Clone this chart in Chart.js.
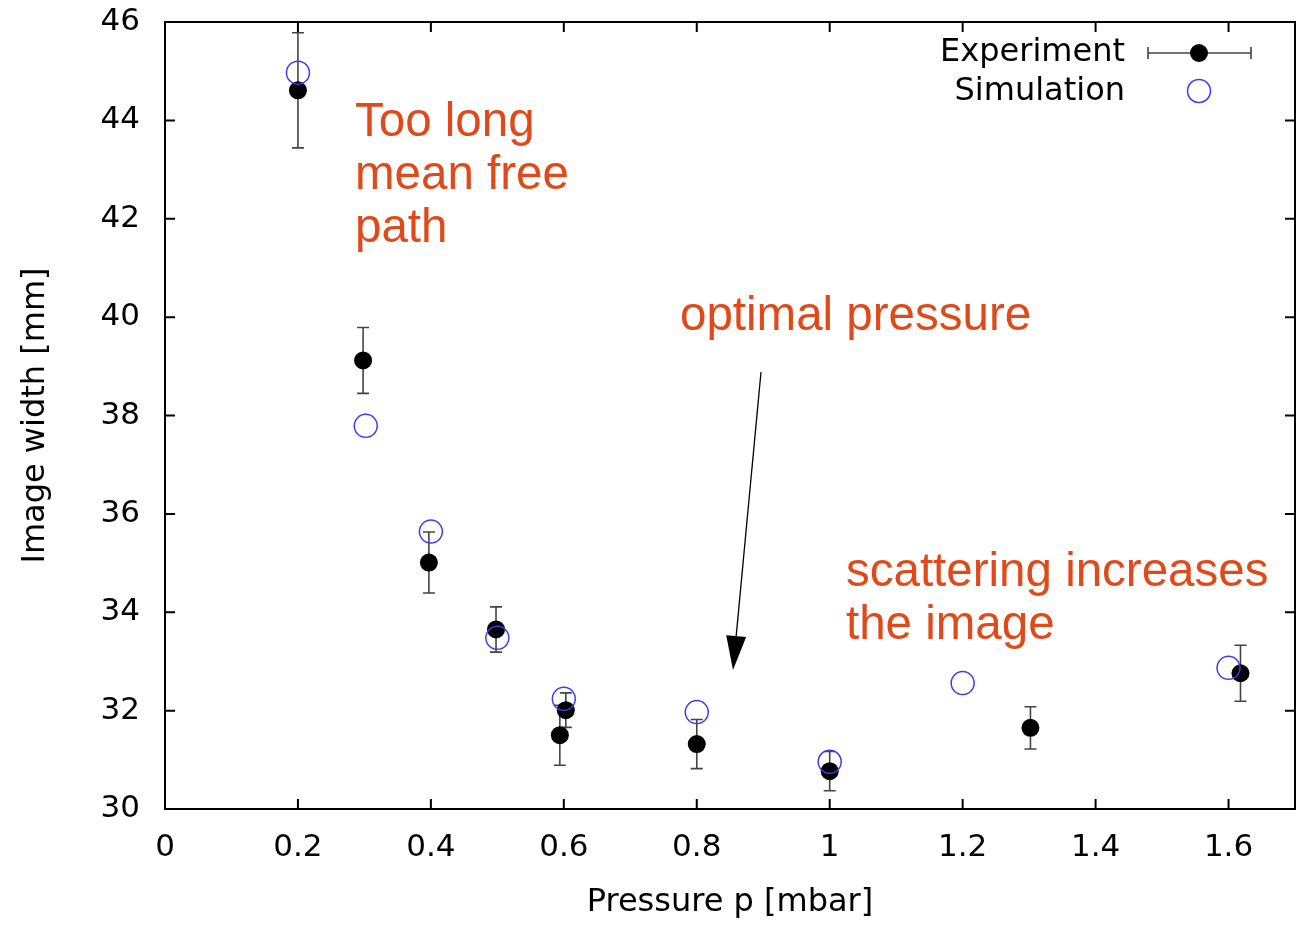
<!DOCTYPE html>
<html>
<head>
<meta charset="utf-8">
<script src="https://cdn.jsdelivr.net/npm/chart.js@4.4.1/dist/chart.umd.min.js"></script>
<style>
  body { margin: 0; background: #fff; }
  canvas { display: block; }
</style>
</head>
<body>
<canvas id="grafico" width="1296" height="925"></canvas>
<script>
// datos
const xTicks = [0, 0.2, 0.4, 0.6, 0.8, 1, 1.2, 1.4, 1.6];
const yTicks = [30, 32, 34, 36, 38, 40, 42, 44, 46];

const expX = [0.2, 0.298, 0.397, 0.498, 0.594, 0.603, 0.8, 1.0, 1.302, 1.618];
const expY = [44.61, 39.12, 35.01, 33.65, 31.50, 32.01, 31.32, 30.77, 31.65, 32.76];
const expErr = [1.17, 0.67, 0.62, 0.46, 0.61, 0.35, 0.5, 0.4, 0.43, 0.57];

const simX = [0.2, 0.302, 0.4, 0.5, 0.6, 0.8, 1.0, 1.2, 1.6];
const simY = [44.97, 37.79, 35.64, 33.48, 32.24, 31.97, 30.96, 32.56, 32.87];

const naranja = '#e04a1a';
const azul = '#3c3cf0';
const fuenteEjes = '"DejaVu Sans", sans-serif';
const fuenteNotas = '"Liberation Sans", Arial, sans-serif';

// barras de error debajo de los puntos
const barrasError = {
    id: 'barrasError',
    beforeDatasetsDraw(chart) {
        const ctx = chart.ctx;
        const x = chart.scales.x;
        const y = chart.scales.y;
        ctx.save();
        ctx.strokeStyle = '#444';
        ctx.lineWidth = 1.6;
        expX.forEach((v, i) => {
            const px = x.getPixelForValue(v);
            const top = y.getPixelForValue(expY[i] + expErr[i]);
            const bot = y.getPixelForValue(expY[i] - expErr[i]);
            ctx.beginPath();
            ctx.moveTo(px, top); ctx.lineTo(px, bot);
            ctx.moveTo(px - 6, top); ctx.lineTo(px + 6, top);
            ctx.moveTo(px - 6, bot); ctx.lineTo(px + 6, bot);
            ctx.stroke();
        });
        ctx.restore();
    }
};

// marco, ticks hacia dentro, leyenda y anotaciones
const marcoYTextos = {
    id: 'marcoYTextos',
    afterDraw(chart) {
        const ctx = chart.ctx;
        const a = chart.chartArea;
        const x = chart.scales.x;
        const y = chart.scales.y;
        ctx.save();
        ctx.strokeStyle = '#000';
        ctx.lineWidth = 2;
        ctx.strokeRect(a.left, a.top, a.right - a.left, a.bottom - a.top);
        ctx.beginPath();
        xTicks.forEach(v => {
            const px = x.getPixelForValue(v);
            ctx.moveTo(px, a.bottom); ctx.lineTo(px, a.bottom - 10);
            ctx.moveTo(px, a.top); ctx.lineTo(px, a.top + 10);
        });
        yTicks.forEach(v => {
            const py = y.getPixelForValue(v);
            ctx.moveTo(a.left, py); ctx.lineTo(a.left + 10, py);
            ctx.moveTo(a.right, py); ctx.lineTo(a.right - 10, py);
        });
        ctx.stroke();

        // leyenda
        ctx.font = '32px ' + fuenteEjes;
        ctx.fillStyle = '#000';
        ctx.textAlign = 'right';
        ctx.textBaseline = 'middle';
        ctx.fillText('Experiment', 1125, 53);
        ctx.fillText('Simulation', 1125, 92);
        ctx.strokeStyle = '#444';
        ctx.lineWidth = 1.6;
        ctx.beginPath();
        ctx.moveTo(1148, 53); ctx.lineTo(1251, 53);
        ctx.moveTo(1148, 47); ctx.lineTo(1148, 59);
        ctx.moveTo(1251, 47); ctx.lineTo(1251, 59);
        ctx.stroke();
        ctx.beginPath();
        ctx.arc(1199, 53, 9, 0, Math.PI * 2);
        ctx.fill();
        ctx.strokeStyle = azul;
        ctx.lineWidth = 1.5;
        ctx.beginPath();
        ctx.arc(1199, 91, 11.5, 0, Math.PI * 2);
        ctx.stroke();

        // anotaciones
        ctx.font = '47.5px ' + fuenteNotas;
        ctx.fillStyle = naranja;
        ctx.textAlign = 'left';
        ctx.textBaseline = 'alphabetic';
        ctx.fillText('Too long', 355, 136);
        ctx.fillText('mean free', 355, 189);
        ctx.fillText('path', 355, 242);
        ctx.fillText('optimal pressure', 680, 330);
        ctx.fillText('scattering increases', 846, 586);
        ctx.fillText('the image', 846, 639);

        // flecha
        const x0 = 761, y0 = 372, x1 = 733, y1 = 670;
        const ang = Math.atan2(y1 - y0, x1 - x0);
        const largo = 34, ancho = 10;
        const bx = x1 - largo * Math.cos(ang), by = y1 - largo * Math.sin(ang);
        ctx.strokeStyle = '#000';
        ctx.lineWidth = 1.3;
        ctx.beginPath();
        ctx.moveTo(x0, y0); ctx.lineTo(bx, by);
        ctx.stroke();
        ctx.fillStyle = '#000';
        ctx.beginPath();
        ctx.moveTo(x1, y1);
        ctx.lineTo(bx + ancho * Math.sin(ang), by - ancho * Math.cos(ang));
        ctx.lineTo(bx - ancho * Math.sin(ang), by + ancho * Math.cos(ang));
        ctx.closePath();
        ctx.fill();
        ctx.restore();
    }
};

const ctx = document.getElementById('grafico').getContext('2d');
const grafico = new Chart(ctx, {
    type: 'scatter',
    data: {
        datasets: [{
            label: 'Simulation',
            data: simX.map((v, i) => ({ x: v, y: simY[i] })),
            pointRadius: 11.5,
            pointHoverRadius: 11.5,
            pointBackgroundColor: 'rgba(0,0,0,0)',
            pointBorderColor: azul,
            pointBorderWidth: 1.5
        }, {
            label: 'Experiment',
            data: expX.map((v, i) => ({ x: v, y: expY[i] })),
            pointRadius: 9,
            pointHoverRadius: 9,
            pointBackgroundColor: '#000',
            pointBorderColor: '#000',
            pointBorderWidth: 0
        }]
    },
    options: {
        responsive: false,
        animation: false,
        events: [],
        layout: {
            autoPadding: false,
            padding: { top: 22, right: 1, left: 0, bottom: 0 }
        },
        plugins: {
            legend: { display: false },
            tooltip: { enabled: false }
        },
        scales: {
            x: {
                type: 'linear',
                min: 0,
                max: 1.7,
                grid: { display: false, drawTicks: false },
                border: { display: false },
                afterBuildTicks: (scale) => { scale.ticks = xTicks.map(v => ({ value: v })); },
                afterFit: (scale) => {
                    scale.height = 116;
                    scale.paddingLeft = 0;
                    scale.paddingRight = 0;
                },
                ticks: {
                    color: '#000',
                    font: { family: fuenteEjes, size: 31 },
                    padding: 20,
                    maxRotation: 0,
                    autoSkip: false,
                    callback: (v) => String(Math.round(v * 10) / 10)
                },
                title: {
                    display: true,
                    text: 'Pressure p [mbar]',
                    color: '#000',
                    font: { family: fuenteEjes, size: 32 },
                    padding: { top: 0, bottom: 3 }
                }
            },
            y: {
                type: 'linear',
                min: 30,
                max: 46,
                grid: { display: false, drawTicks: false },
                border: { display: false },
                afterBuildTicks: (scale) => { scale.ticks = yTicks.map(v => ({ value: v })); },
                afterFit: (scale) => {
                    scale.width = 165;
                    scale.paddingTop = 0;
                    scale.paddingBottom = 0;
                },
                ticks: {
                    color: '#000',
                    font: { family: fuenteEjes, size: 31 },
                    padding: 25,
                    autoSkip: false,
                    callback: (v) => String(v)
                },
                title: {
                    display: true,
                    text: 'Image width [mm]',
                    color: '#000',
                    font: { family: fuenteEjes, size: 32 },
                    padding: { top: 16, bottom: 0 }
                }
            }
        }
    },
    plugins: [barrasError, marcoYTextos]
});
</script>
</body>
</html>
